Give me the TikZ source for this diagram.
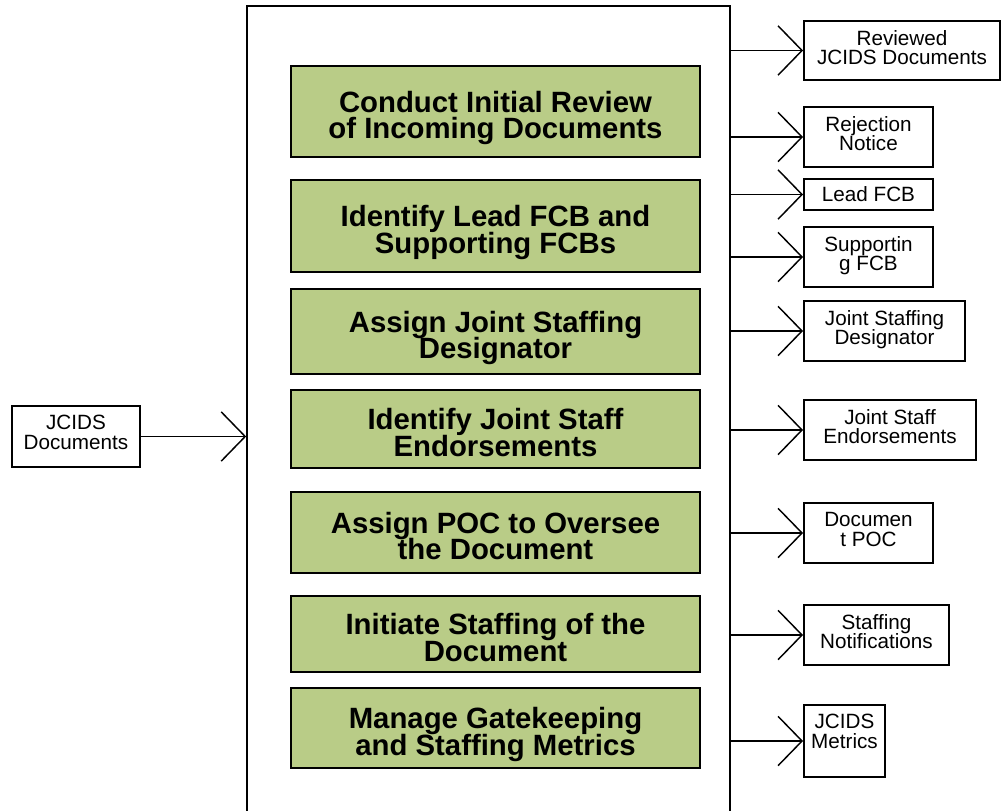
\documentclass[tikz,border=0pt]{standalone}
\usepackage{fontspec}
\setmainfont{Liberation Sans}
\usetikzlibrary{arrows.meta}
\definecolor{taskgreen}{HTML}{B9CC87}

\begin{document}
\begin{tikzpicture}[x=0.75pt,y=-0.75pt,
    task/.style={draw,line width=2.2pt,fill=taskgreen,minimum width=306.75pt,
      inner sep=0pt,align=center,
      font={\fontsize{22}{20}\selectfont\bfseries\lineskiplimit-20pt\relax},
      execute at begin node={\rule{0pt}{46.8pt}},
      execute at end node={\rule[-6pt]{0pt}{0pt}}},
    outbox/.style={draw,line width=1.4pt,inner sep=0pt,
      font={\fontsize{15.5}{14.6}\selectfont\lineskiplimit-20pt\relax}},
    outtext/.style={anchor=north,yshift=-7.5pt,inner sep=0pt,align=center,
      font={\fontsize{15.5}{14.6}\selectfont\lineskiplimit-20pt\relax}},
    flow/.style={line width=1.1pt,-{Straight Barb[length=18pt,width=37pt]}}]
    \useasboundingbox (0,0) rectangle (1002,810);
    % outer activity frame, runs off the bottom
    \node[draw,line width=1.2pt,minimum width=362.25pt,minimum height=618pt,inner sep=0pt]
      (frame) at (488.5,418) {};
    % tasks
    \node[task,minimum height=68.25pt] (review) at (495.5,111.5) {Conduct Initial Review\\of Incoming Documents};
    \node[task,minimum height=69pt] (leadfcbs) at (495.5,226) {Identify Lead FCB and\\Supporting FCBs};
    \node[task,minimum height=63.75pt] (assignjsd) at (495.5,331.5) {Assign Joint Staffing\\Designator};
    \node[task,minimum height=58.5pt] (endorse) at (495.5,429) {Identify Joint Staff\\Endorsements};
    \node[task,minimum height=60.75pt] (assignpoc) at (495.5,532.5) {Assign POC to Oversee\\the Document};
    \node[task,minimum height=57pt] (initiate) at (495.5,634) {Initiate Staffing of the\\Document};
    \node[task,minimum height=60pt] (gatekeep) at (495.5,728) {Manage Gatekeeping\\and Staffing Metrics};
    % input
    \node[outbox,minimum width=96pt,minimum height=45.75pt,
      label={[outtext]north:{JCIDS\\Documents}}] (jcids) at (76,436.5) {};
    \draw[flow] (jcids.east) -- (jcids.east -| frame.west);
    % outputs
    \node[outbox,minimum width=147pt,minimum height=44.25pt,
      label={[outtext]north:{Reviewed\\JCIDS Documents}}] (reviewed) at (902,50.5) {};
    \node[outbox,minimum width=96.75pt,minimum height=45pt,
      label={[outtext]north:{Rejection\\Notice}}] (rejection) at (868.5,137) {};
    \node[outbox,minimum width=96.75pt,minimum height=23.25pt] (leadfcb) at (868.5,194.5) {Lead FCB};
    \node[outbox,minimum width=96.75pt,minimum height=45pt,
      label={[outtext]north:{Supportin\\g FCB}}] (suppfcb) at (868.5,257) {};
    \node[outbox,minimum width=120.75pt,minimum height=45pt,
      label={[outtext]north:{Joint Staffing\\Designator}}] (jsd) at (884.5,331) {};
    \node[outbox,minimum width=129pt,minimum height=45pt,
      label={[outtext]north:{Joint Staff\\Endorsements}}] (jsendorse) at (890,430) {};
    \node[outbox,minimum width=96.75pt,minimum height=45pt,
      label={[outtext]north:{Documen\\t POC}}] (docpoc) at (868.5,533) {};
    \node[outbox,minimum width=108.75pt,minimum height=45pt,
      label={[outtext]north:{Staffing\\Notifications}}] (notices) at (876.5,635) {};
    \node[outbox,minimum width=60.75pt,minimum height=54pt,
      label={[outtext]north:{JCIDS\\Metrics}}] (metrics) at (844.5,741) {};
    \foreach \o in {reviewed,rejection,leadfcb,suppfcb,jsd,jsendorse,docpoc,notices,metrics}
      \draw[flow] (frame.east |- \o.west) -- (\o.west);
\end{tikzpicture}
\end{document}
